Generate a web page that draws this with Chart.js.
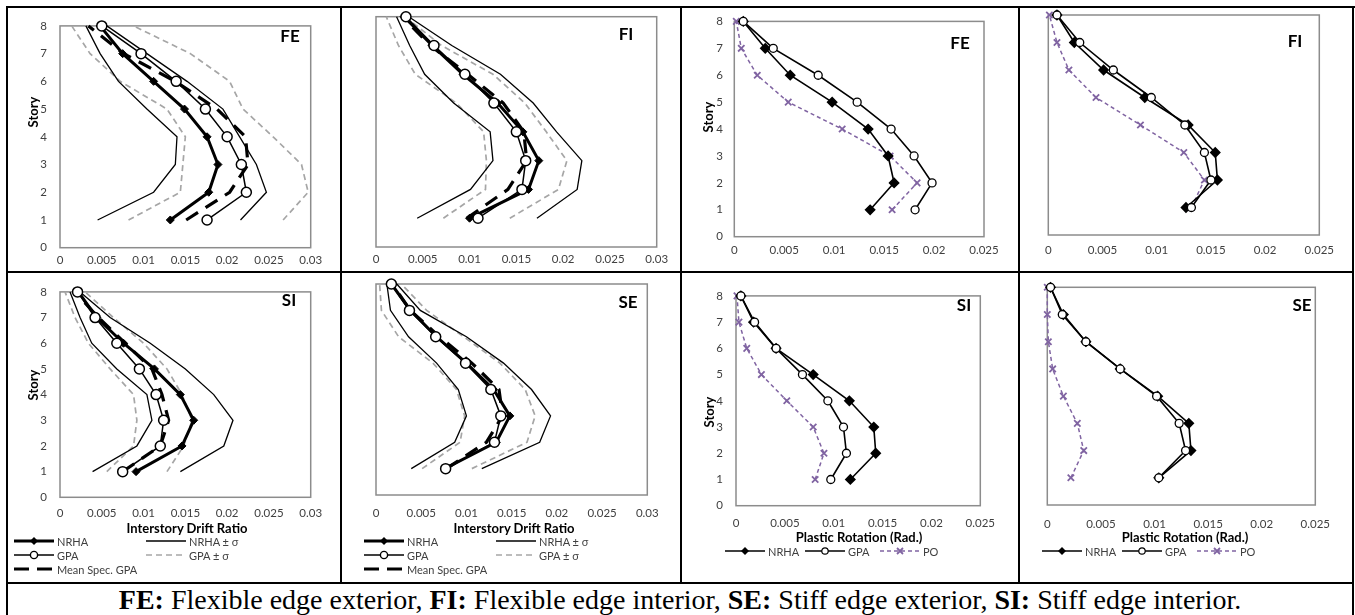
<!DOCTYPE html>
<html>
<head>
<meta charset="utf-8">
<script src="https://cdn.jsdelivr.net/npm/chart.js@4.4.1/dist/chart.umd.min.js"></script>
<style>
  html, body { margin: 0; padding: 0; background: #fff; }
  #fig { position: relative; width: 1355px; height: 615px; overflow: hidden; font-family: Lato, 'Open Sans', sans-serif; }
  .rule { position: absolute; background: #000; }
  .panel { position: absolute; }
  .tag { position: absolute; font: bold 17px Lato, sans-serif; color: #000; transform: translate(-50%, -50%); }
  .ytitle { position: absolute; font: bold 13px Lato, sans-serif; color: #000; white-space: nowrap; transform: translate(-50%, -50%) rotate(-90deg); }
  .xtitle { position: absolute; font: bold 13px Lato, sans-serif; color: #000; white-space: nowrap; transform: translate(-50%, -50%); }
  .leg { position: absolute; height: 12px; display: flex; align-items: center; font: 11px Lato, sans-serif; color: #404040; white-space: nowrap; }
  .leg svg { margin-right: 3px; }
  #caption { position: absolute; left: 8px; width: 1344px; top: 584px; height: 31px; line-height: 31px; text-align: center; font: 28px 'Liberation Serif', 'Times New Roman', serif; color: #000; white-space: nowrap; }
</style>
</head>
<body>
<div id="fig">
  <div id="caption"><b>FE:</b> Flexible edge exterior, <b>FI:</b> Flexible edge interior, <b>SE:</b> Stiff edge exterior, <b>SI:</b> Stiff edge interior.</div>
</div>
<script>
// ---- axes ----
const stories = [1, 2, 3, 4, 5, 6, 7, 8];
const storyTicks = [0, 1, 2, 3, 4, 5, 6, 7, 8];
const driftTicks = [0, 0.005, 0.01, 0.015, 0.02, 0.025, 0.03];
const rotTicks = [0, 0.005, 0.01, 0.015, 0.02, 0.025];

// ---- interstory drift ratio (story 1..8) ----
const feNrha   = [0.0132, 0.0178, 0.0189, 0.0176, 0.0149, 0.0112, 0.0075, 0.0048];
const feGpa    = [0.0176, 0.0223, 0.0217, 0.0200, 0.0174, 0.0139, 0.0097, 0.0050];
const feMean   = [0.0151, 0.0203, 0.0225, 0.0222, 0.0188, 0.0138, 0.0076, 0.0034];
const feNrhaLo = [0.0045, 0.0112, 0.0138, 0.0140, 0.0104, 0.0070, 0.0048, 0.0031];
const feNrhaHi = [0.0216, 0.0247, 0.0235, 0.0215, 0.0195, 0.0152, 0.0104, 0.0056];
const feGpaLo  = [0.0082, 0.0144, 0.0147, 0.0150, 0.0128, 0.0072, 0.0036, 0.0014];
const feGpaHi  = [0.0267, 0.0297, 0.0289, 0.0255, 0.0219, 0.0203, 0.0156, 0.0088];

const fiNrha   = [0.0100, 0.0163, 0.0174, 0.0157, 0.0130, 0.0093, 0.0060, 0.0030];
const fiGpa    = [0.0109, 0.0156, 0.0160, 0.0150, 0.0126, 0.0095, 0.0062, 0.0032];
const fiMean   = [0.0097, 0.0141, 0.0161, 0.0158, 0.0136, 0.0098, 0.0058, 0.0028];
const fiNrhaLo = [0.0044, 0.0101, 0.0125, 0.0122, 0.0083, 0.0052, 0.0036, 0.0022];
const fiNrhaHi = [0.0172, 0.0215, 0.0220, 0.0193, 0.0168, 0.0133, 0.0081, 0.0035];
const fiGpaLo  = [0.0072, 0.0117, 0.0118, 0.0115, 0.0086, 0.0042, 0.0024, 0.0011];
const fiGpaHi  = [0.0143, 0.0195, 0.0204, 0.0182, 0.0159, 0.0125, 0.0070, 0.0031];

const siNrha   = [0.0091, 0.0146, 0.0160, 0.0144, 0.0113, 0.0076, 0.0044, 0.0022];
const siGpa    = [0.0075, 0.0120, 0.0124, 0.0115, 0.0095, 0.0068, 0.0042, 0.0021];
const siMean   = [0.0075, 0.0120, 0.0130, 0.0122, 0.0110, 0.0078, 0.0046, 0.0018];
const siNrhaLo = [0.0039, 0.0092, 0.0110, 0.0104, 0.0068, 0.0038, 0.0024, 0.0012];
const siNrhaHi = [0.0144, 0.0196, 0.0207, 0.0184, 0.0150, 0.0108, 0.0060, 0.0024];
const siGpaLo  = [0.0056, 0.0088, 0.0092, 0.0088, 0.0060, 0.0034, 0.0018, 0.0006];
const siGpaHi  = [0.0128, 0.0148, 0.0158, 0.0146, 0.0128, 0.0100, 0.0064, 0.0030];

const seNrha   = [0.0076, 0.0133, 0.0148, 0.0130, 0.0100, 0.0067, 0.0038, 0.0017];
const seGpa    = [0.0077, 0.0131, 0.0138, 0.0127, 0.0099, 0.0066, 0.0037, 0.0017];
const seMean   = [0.0078, 0.0122, 0.0140, 0.0136, 0.0106, 0.0070, 0.0038, 0.0018];
const seNrhaLo = [0.0039, 0.0087, 0.0100, 0.0091, 0.0067, 0.0036, 0.0016, 0.0012];
const seNrhaHi = [0.0117, 0.0181, 0.0193, 0.0172, 0.0141, 0.0100, 0.0049, 0.0023];
const seGpaLo  = [0.0051, 0.0093, 0.0098, 0.0089, 0.0063, 0.0025, 0.0006, 0.0004];
const seGpaHi  = [0.0106, 0.0167, 0.0176, 0.0165, 0.0137, 0.0097, 0.0056, 0.0028];

// ---- plastic rotation (rad.) ----
const feRotNrha = [0.0136, 0.0160, 0.0154, 0.0134, 0.0098, 0.0056, 0.0031, 0.0009];
const feRotGpa  = [0.0181, 0.0198, 0.0180, 0.0157, 0.0123, 0.0084, 0.0039, 0.0009];
const feRotPo   = [0.0158, 0.0183, 0.0156, 0.0108, 0.0054, 0.0023, 0.0007, 0.0002];
const fiRotNrha = [0.0127, 0.0156, 0.0154, 0.0129, 0.0089, 0.0051, 0.0024, 0.0008];
const fiRotGpa  = [0.0132, 0.0150, 0.0144, 0.0126, 0.0095, 0.0060, 0.0029, 0.0008];
const fiRotPo   = [0.0132, 0.0144, 0.0125, 0.0085, 0.0044, 0.0019, 0.0008, 0.0001];
const siRotNrha = [0.0117, 0.0143, 0.0141, 0.0116, 0.0079, 0.0041, 0.0018, 0.0005];
const siRotGpa  = [0.0097, 0.0113, 0.0110, 0.0094, 0.0068, 0.0041, 0.0019, 0.0005];
const siRotPo   = [0.0081, 0.0090, 0.0079, 0.0052, 0.0026, 0.0011, 0.0003, 0.0001];
const seRotNrha = [0.0104, 0.0134, 0.0132, 0.0103, 0.0068, 0.0036, 0.0015, 0.0003];
const seRotGpa  = [0.0104, 0.0129, 0.0123, 0.0102, 0.0068, 0.0036, 0.0014, 0.0003];
const seRotPo   = [0.0022, 0.0034, 0.0028, 0.0015, 0.0005, 0.0001, 0.0000, 0.0000];

const PURPLE = '#8064a2';
const GREY = '#a6a6a6';
const fig = document.getElementById('fig');

const pts = arr => arr.map((x, i) => ({ x, y: stories[i] }));

// grey frame round the plot area, like the spreadsheet plot border
const plotFrame = {
  id: 'plotFrame',
  beforeDatasetsDraw(chart) {
    const { ctx, chartArea: a } = chart;
    ctx.save();
    ctx.strokeStyle = '#8c8c8c';
    ctx.lineWidth = 1.5;
    ctx.strokeRect(a.left, a.top, a.right - a.left, a.bottom - a.top);
    ctx.restore();
  },
};

function line(label, data, extra) {
  return Object.assign({
    label, data: pts(data), showLine: true, clip: false, tension: 0,
    borderColor: '#000', backgroundColor: '#000', pointRadius: 0, pointHoverRadius: 0,
  }, extra);
}

function driftSets(d) {
  return [
    line('GPA', d.gpa, { borderWidth: 1.5, pointStyle: 'circle', pointRadius: 5, pointBackgroundColor: '#fff', pointBorderColor: '#000', pointBorderWidth: 1.5, order: 0 }),
    line('NRHA', d.nrha, { borderWidth: 3, pointStyle: 'rectRot', pointRadius: 4, pointBackgroundColor: '#000', pointBorderColor: '#000', pointBorderWidth: 1, order: 1 }),
    line('Mean Spec. GPA', d.mean, { borderWidth: 3.2, borderDash: [14, 9], order: 2 }),
    line('NRHA + σ', d.nrhaHi, { borderWidth: 1.3, order: 3 }),
    line('NRHA − σ', d.nrhaLo, { borderWidth: 1.3, order: 3 }),
    line('GPA + σ', d.gpaHi, { borderWidth: 1.7, borderColor: GREY, borderDash: [6, 4], order: 4 }),
    line('GPA − σ', d.gpaLo, { borderWidth: 1.7, borderColor: GREY, borderDash: [6, 4], order: 4 }),
  ];
}

function rotSets(d) {
  return [
    line('GPA', d.gpa, { borderWidth: 1.6, pointStyle: 'circle', pointRadius: 4, pointBackgroundColor: '#fff', pointBorderColor: '#000', pointBorderWidth: 1.3, order: 0 }),
    line('NRHA', d.nrha, { borderWidth: 1.6, pointStyle: 'rectRot', pointRadius: 4.5, pointBackgroundColor: '#000', pointBorderColor: '#000', order: 1 }),
    line('PO', d.po, { borderWidth: 1.5, borderColor: PURPLE, borderDash: [4, 3], pointStyle: 'crossRot', pointRadius: 4.5, pointBorderColor: PURPLE, pointBorderWidth: 1.8, order: 2 }),
  ];
}

function makePanel(p) {
  const [L, T, R, B] = p.area;
  const left = Math.floor(L - 40), top = Math.floor(T - 12);
  const wy = L - left, pt = T - top, pr = 22, hx = 32;
  const w = Math.ceil(R + pr - left), h = Math.ceil(B + hx - top);
  const canvas = document.createElement('canvas');
  canvas.className = 'panel';
  canvas.width = w; canvas.height = h;
  canvas.style.left = left + 'px'; canvas.style.top = top + 'px';
  canvas.style.width = w + 'px'; canvas.style.height = h + 'px';
  fig.appendChild(canvas);

  const tickFont = { family: 'Lato', size: 11.5 };
  new Chart(canvas.getContext('2d'), {
    type: 'scatter',
    data: { datasets: p.sets },
    options: {
      responsive: false, animation: false, events: [],
      layout: { padding: { left: 0, top: pt, right: w - (R - left), bottom: 0 } },
      plugins: { legend: { display: false }, tooltip: { enabled: false } },
      scales: {
        x: {
          type: 'linear', min: 0, max: p.ticks[p.ticks.length - 1],
          afterBuildTicks: s => { s.ticks = p.ticks.map(v => ({ value: v })); },
          afterFit: s => { s.height = h - (B - top); },
          grid: { display: false, drawTicks: false }, border: { display: false },
          ticks: { padding: p.xPad, font: tickFont, color: '#404040', maxRotation: 0, autoSkip: false,
                   callback: v => String(v) },
        },
        y: {
          type: 'linear', min: 0, max: 8,
          afterBuildTicks: s => { s.ticks = storyTicks.map(v => ({ value: v })); },
          afterFit: s => { s.width = wy; },
          grid: { display: false, drawTicks: false }, border: { display: false },
          ticks: { display: p.yLabels, padding: p.yPad || 13, font: tickFont, color: '#404040' },
        },
      },
    },
    plugins: [plotFrame],
  });

  addText('tag', p.tag, p.tagAt[0], p.tagAt[1]);
}

function addText(cls, text, x, y) {
  const d = document.createElement('div');
  d.className = cls;
  d.textContent = text;
  d.style.left = x + 'px'; d.style.top = y + 'px';
  fig.appendChild(d);
}

const SAMPLES = {
  nrha: '<line x1="0" y1="6" x2="40" y2="6" stroke="#000" stroke-width="3"/><polygon points="20,2 24,6 20,10 16,6" fill="#000"/>',
  gpa: '<line x1="0" y1="6" x2="40" y2="6" stroke="#000" stroke-width="1.5"/><circle cx="20" cy="6" r="3.6" fill="#fff" stroke="#000" stroke-width="1.4"/>',
  mean: '<line x1="0" y1="6" x2="40" y2="6" stroke="#000" stroke-width="3" stroke-dasharray="15 8"/>',
  nrhaSig: '<line x1="0" y1="6" x2="40" y2="6" stroke="#000" stroke-width="1.3"/>',
  gpaSig: '<line x1="0" y1="6" x2="40" y2="6" stroke="' + GREY + '" stroke-width="1.7" stroke-dasharray="6 4"/>',
  nrhaR: '<line x1="0" y1="6" x2="40" y2="6" stroke="#000" stroke-width="1.6"/><polygon points="20,2 24,6 20,10 16,6" fill="#000"/>',
  gpaR: '<line x1="0" y1="6" x2="40" y2="6" stroke="#000" stroke-width="1.4"/><circle cx="20" cy="6" r="3.2" fill="#fff" stroke="#000" stroke-width="1.2"/>',
  po: '<line x1="0" y1="6" x2="40" y2="6" stroke="' + PURPLE + '" stroke-width="1.5" stroke-dasharray="4 3"/><path d="M17 3 L23 9 M23 3 L17 9" stroke="' + PURPLE + '" stroke-width="1.8"/>',
};

function addLegend(x, y, kind, text) {
  const d = document.createElement('div');
  d.className = 'leg';
  d.style.left = x + 'px'; d.style.top = (y - 6) + 'px';
  d.innerHTML = '<svg width="40" height="12">' + SAMPLES[kind] + '</svg><span>' + text + '</span>';
  fig.appendChild(d);
}

// ---- table rules ----
[[6, 6, 1349, 2], [6, 6, 2, 609], [1352, 6, 2, 609], [340, 6, 2, 577], [680, 6, 2, 577], [1018, 6, 2, 577],
 [6, 271, 1348, 2], [6, 582, 1348, 2]].forEach(([x, y, w, h]) => {
  const r = document.createElement('div');
  r.className = 'rule';
  Object.assign(r.style, { left: x + 'px', top: y + 'px', width: w + 'px', height: h + 'px' });
  fig.appendChild(r);
});

const panels = [
  { tag: 'FE', tagAt: [290, 35], area: [60, 18.3, 310.7, 247.7], ticks: driftTicks, xPad: 6, yLabels: true,
    sets: driftSets({ nrha: feNrha, gpa: feGpa, mean: feMean, nrhaLo: feNrhaLo, nrhaHi: feNrhaHi, gpaLo: feGpaLo, gpaHi: feGpaHi }) },
  { tag: 'FI', tagAt: [626, 33], area: [376, 16.7, 656.7, 247], ticks: driftTicks, xPad: 5, yLabels: false,
    sets: driftSets({ nrha: fiNrha, gpa: fiGpa, mean: fiMean, nrhaLo: fiNrhaLo, nrhaHi: fiNrhaHi, gpaLo: fiGpaLo, gpaHi: fiGpaHi }) },
  { tag: 'FE', tagAt: [960, 42], area: [734.3, 15.7, 984, 236.7], ticks: rotTicks, xPad: 7, yLabels: true, yPad: 11.5,
    sets: rotSets({ nrha: feRotNrha, gpa: feRotGpa, po: feRotPo }) },
  { tag: 'FI', tagAt: [1295, 40], area: [1048.3, 15, 1320, 235], ticks: rotTicks, xPad: 8, yLabels: false,
    sets: rotSets({ nrha: fiRotNrha, gpa: fiRotGpa, po: fiRotPo }) },
  { tag: 'SI', tagAt: [289, 299], area: [60, 284, 310.7, 497.3], ticks: driftTicks, xPad: 9, yLabels: true,
    sets: driftSets({ nrha: siNrha, gpa: siGpa, mean: siMean, nrhaLo: siNrhaLo, nrhaHi: siNrhaHi, gpaLo: siGpaLo, gpaHi: siGpaHi }) },
  { tag: 'SE', tagAt: [628, 301], area: [376, 284, 647.3, 495], ticks: driftTicks, xPad: 11, yLabels: false,
    sets: driftSets({ nrha: seNrha, gpa: seGpa, mean: seMean, nrhaLo: seNrhaLo, nrhaHi: seNrhaHi, gpaLo: seGpaLo, gpaHi: seGpaHi }) },
  { tag: 'SI', tagAt: [964, 304], area: [736, 288.3, 984, 505.7], ticks: rotTicks, xPad: 11, yLabels: true,
    sets: rotSets({ nrha: siRotNrha, gpa: siRotGpa, po: siRotPo }) },
  { tag: 'SE', tagAt: [1302, 304], area: [1047.3, 287.3, 1320, 505], ticks: rotTicks, xPad: 12, yLabels: false,
    sets: rotSets({ nrha: seRotNrha, gpa: seRotGpa, po: seRotPo }) },
];
panels.forEach(makePanel);

// ---- axis titles ----
addText('ytitle', 'Story', 33, 112);
addText('ytitle', 'Story', 708, 117);
addText('ytitle', 'Story', 33, 385);
addText('ytitle', 'Story', 709, 412);
addText('xtitle', 'Interstory Drift Ratio', 187, 528);
addText('xtitle', 'Interstory Drift Ratio', 514, 528);
addText('xtitle', 'Plastic Rotation (Rad.)', 859, 537);
addText('xtitle', 'Plastic Rotation (Rad.)', 1185, 537);

// ---- legends ----
[[14, 146], [364, 496]].forEach(([a, b]) => {
  addLegend(a, 541, 'nrha', 'NRHA');
  addLegend(a, 555, 'gpa', 'GPA');
  addLegend(a, 569, 'mean', 'Mean Spec. GPA');
  addLegend(b, 541, 'nrhaSig', 'NRHA ± σ');
  addLegend(b, 555, 'gpaSig', 'GPA ± σ');
});
[725, 1042].forEach(x => {
  addLegend(x, 551, 'nrhaR', 'NRHA');
  addLegend(x + 80, 551, 'gpaR', 'GPA');
  addLegend(x + 155, 551, 'po', 'PO');
});
</script>
</body>
</html>
